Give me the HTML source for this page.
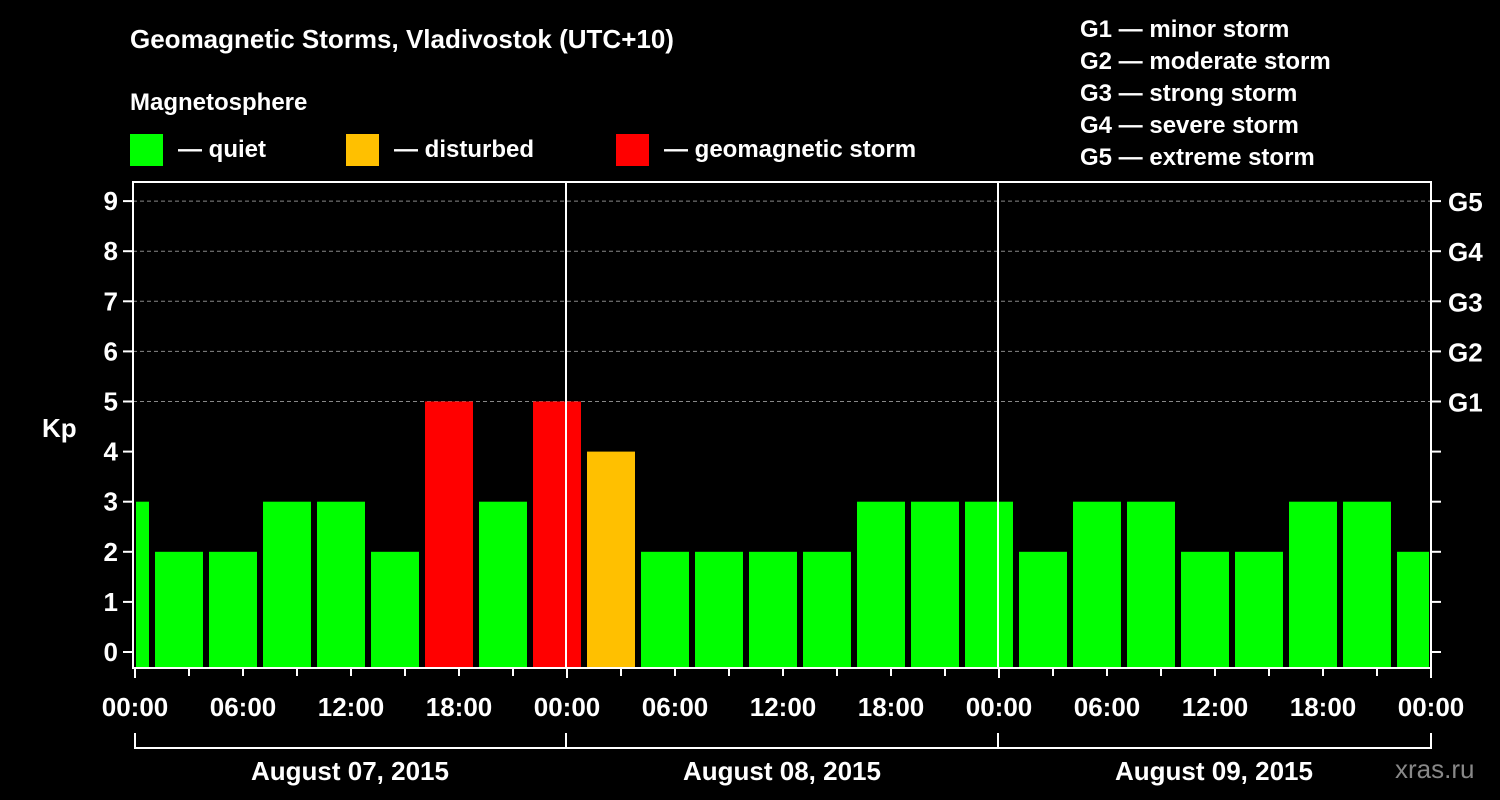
<!DOCTYPE html>
<html><head><meta charset="utf-8"><style>
body{margin:0;background:#000;width:1500px;height:800px;overflow:hidden}
svg{display:block;font-family:"Liberation Sans",Arial,sans-serif;font-weight:bold}
</style></head><body>
<svg id="c" width="1500" height="800" viewBox="0 0 1500 800">
<text x="130" y="48" fill="#fff" font-size="26">Geomagnetic Storms, Vladivostok (UTC+10)</text>
<text x="130" y="110" fill="#fff" font-size="24">Magnetosphere</text>
<g><rect x="130" y="134" width="33" height="32" fill="#00ff00"/><text x="178" y="157" fill="#fff" font-size="24">— quiet</text></g>
<g><rect x="346" y="134" width="33" height="32" fill="#ffc000"/><text x="394" y="157" fill="#fff" font-size="24">— disturbed</text></g>
<g><rect x="616" y="134" width="33" height="32" fill="#ff0000"/><text x="664" y="157" fill="#fff" font-size="24">— geomagnetic storm</text></g>
<g fill="#fff" font-size="24">
<text x="1080" y="37">G1 — minor storm</text><text x="1080" y="69">G2 — moderate storm</text><text x="1080" y="101">G3 — strong storm</text><text x="1080" y="133">G4 — severe storm</text><text x="1080" y="165">G5 — extreme storm</text></g>
<text x="42" y="437" fill="#fff" font-size="26">Kp</text>
<text x="1395" y="778" fill="#888" font-size="26" font-weight="normal">xras.ru</text>
<g id="grid"></g><g id="bars"></g><g id="axes"></g>
</svg>
<script>
const kpValues=[3,2,2,3,3,2,5,3,5,4,2,2,2,2,3,3,3,2,3,3,2,2,3,3,2];
const yTicks=[0,1,2,3,4,5,6,7,8,9];
const gLabels=["G1","G2","G3","G4","G5"];
const xTickLabels=["00:00","06:00","12:00","18:00","00:00","06:00","12:00","18:00","00:00","06:00","12:00","18:00","00:00"];
const dateLabels=["August 07, 2015","August 08, 2015","August 09, 2015"];
const NS="http://www.w3.org/2000/svg";
const X0=134,XH=18,Y0=652,YU=50.1,L=133,R=1431,T=182,B=668;
const x=h=>X0+h*XH, y=v=>Y0-v*YU;
function mk(t,a,p){const e=document.createElementNS(NS,t);for(const k in a)e.setAttribute(k,a[k]);p.appendChild(e);return e;}
const grid=document.getElementById('grid'),bars=document.getElementById('bars'),axes=document.getElementById('axes');
for(let v=5;v<=9;v++){const l=mk('line',{x1:L,x2:R,y1:y(v),y2:y(v),stroke:'#888','stroke-dasharray':'4,3','stroke-width':1},grid);

}
kpValues.forEach((v,i)=>{const c=-0.5+3*i;let x1=x(c-1.333),x2=x(c+1.333);x1=Math.max(x1,L+3);x2=Math.min(x2,R-2);
const col=v>=5?'#ff0000':v>=4?'#ffc000':'#00ff00';
const r=mk('rect',{x:x1,y:y(v),width:x2-x1,height:B-y(v),fill:col},bars);

});
[x(24),x(48)].forEach(xx=>{const l=mk('line',{x1:xx,x2:xx,y1:T,y2:B,stroke:'#fff','stroke-width':2},axes);

});
const fr=mk('rect',{x:L,y:T,width:R-L,height:B-T,fill:'none',stroke:'#fff','stroke-width':2},axes);


yTicks.forEach(v=>{mk('line',{x1:L-10,x2:L,y1:y(v),y2:y(v),stroke:'#fff','stroke-width':2},axes);
mk('line',{x1:R,x2:R+10,y1:y(v),y2:y(v),stroke:'#fff','stroke-width':2},axes);
const t=mk('text',{x:118,y:y(v)+9,fill:'#fff','font-size':26,'text-anchor':'end'},axes);t.textContent=v;

});
gLabels.forEach((g,i)=>{const t=mk('text',{x:1448,y:y(5+i)+10,fill:'#fff','font-size':26},axes);t.textContent=g;

});
for(let h=0;h<=72;h+=3){const big=h%6==0;mk('line',{x1:x(h)+1,x2:x(h)+1,y1:B,y2:B+(h%24==0?10:8),stroke:'#fff','stroke-width':2},axes);}
xTickLabels.forEach((s,i)=>{const t=mk('text',{x:x(i*6)+1,y:716,fill:'#fff','font-size':26,'text-anchor':'middle'},axes);t.textContent=s;

});
mk('path',{d:`M${x(0)+1},733V748H${x(72)+1}V733M${x(24)},733V748M${x(48)},733V748`,fill:'none',stroke:'#fff','stroke-width':2},axes);
dateLabels.forEach((s,i)=>{const t=mk('text',{x:x(24*i+12),y:780,fill:'#fff','font-size':26,'text-anchor':'middle'},axes);t.textContent=s;

});
</script>
</body></html>
